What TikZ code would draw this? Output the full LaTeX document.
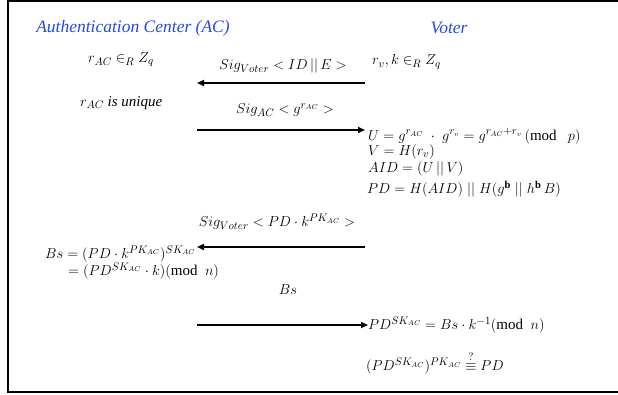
\documentclass[tikz,border=0pt]{standalone}
\usepackage{fontspec}
\setmainfont{Liberation Serif}
\usetikzlibrary{arrows.meta}
\definecolor{titleblue}{RGB}{35,75,225}

\begin{document}
\begin{tikzpicture}[x=1pt,y=-1pt,
party/.style={
inner sep=0pt,
text=titleblue,
font=\fontsize{17.5}{20}\selectfont\itshape
},
calc/.style={
anchor=west,inner sep=0pt,
font=\fontsize{15}{18}\selectfont
},
msg/.style={
inner sep=0pt,
font=\fontsize{15}{18}\selectfont
},
arrow/.style={-{Triangle[length=7pt,width=6pt]}, line width=1.6pt}
]
\useasboundingbox (0,0) rectangle (618,394);

% =======================
% FRAME (open on the right)
% =======================

\draw[line width=1.6pt] (618,1) -- (8,1) -- (8,392) -- (618,392);

% =======================
% PARTIES
% =======================

\node[party] (ac) at (133,28) {Authentication Center (AC)};
\node[party] (voter) at (449,28) {Voter};

% =======================
% LEFT COLUMN (AC)
% =======================

\node[calc] (rac) at (88,60) {$r_{AC}\in_{R} Z_{q}$};
\node[calc] (unique) at (80,103) {$r_{AC}$ \textit{is unique}};
\node[calc] (bs1) at (45,254) {$Bs=(PD\cdot k^{PK_{AC}})^{SK_{AC}}$};
\node[calc] (bs2) at (68,271) {$=(PD^{SK_{AC}}\cdot k)(\mathrm{mod}\ \ n)$};

% =======================
% RIGHT COLUMN (VOTER)
% =======================

\node[calc] (rv) at (372,62) {$r_{v},k\in_{R} Z_{q}$};
\node[calc] (u) at (368,136) {$U=g^{r_{AC}}\;\cdot\;g^{r_{v}}=g^{r_{AC}+r_{v}}\,(\mathrm{mod}\ \ \ p)$};
\node[calc] (v) at (368,152) {$V=H(r_{v})$};
\node[calc] (aid) at (368,169) {$AID=(U\,||\,V)$};
\node[calc] (pd) at (367,189) {$PD=H(AID)\;||\;H(g^{\mathbf{b}}\;||\;h^{\mathbf{b}}\,B)$};
\node[calc] (unblind) at (368,325) {$PD^{SK_{AC}}=Bs\cdot k^{-1}(\mathrm{mod}\ \ n)$};
\node[calc] (check) at (366,363) {$(PD^{SK_{AC}})^{PK_{AC}}\stackrel{\raisebox{2pt}{$\scriptstyle ?$}}{\equiv}PD$};

% =======================
% MESSAGES
% =======================

\coordinate (m1v) at (365,83);
\coordinate (m1a) at (197,83);
\coordinate (m2a) at (197,130);
\coordinate (m2v) at (365,130);
\coordinate (m3v) at (365,247);
\coordinate (m3a) at (197,247);
\coordinate (m4a) at (197,325);

\node[msg] (sig1) at (283,66) {$Sig_{Voter}<ID\,||\,E>$};
\node[msg] (sig2) at (285,110) {$Sig_{AC}<g^{r_{AC}}>$};
\node[msg] (sig3) at (277,222) {$Sig_{Voter}<PD\cdot k^{PK_{AC}}>$};
\node[msg] (bs) at (288,290) {$Bs$};

\draw[arrow] (m1v) -- (m1a);
\draw[arrow] (m2a) -- (m2v);
\draw[arrow] (m3v) -- (m3a);
\draw[arrow] (m4a) -- (unblind.west);

\end{tikzpicture}
\end{document}
